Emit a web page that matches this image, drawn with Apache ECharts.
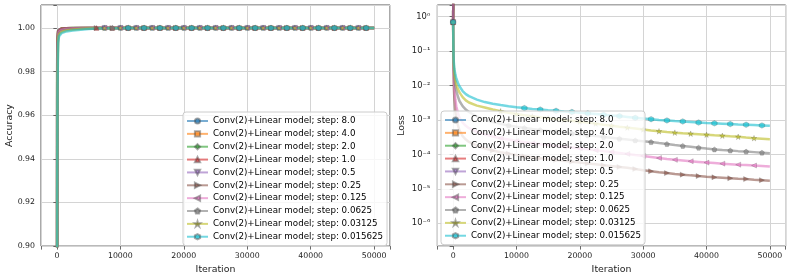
<!DOCTYPE html>
<html><head><meta charset="utf-8">
<script src="https://cdn.jsdelivr.net/npm/echarts@6/dist/echarts.min.js"></script>
<style>html,body{margin:0;padding:0;background:#fff}#c{width:793px;height:279px}</style>
</head><body><div id="c"></div>
<script>
// ---------------- data ----------------
const ITER = [0,50,100,200,350,500,750,1000,1500,2000,2500,3750,
  5000,6250,7500,8750,10000,11250,12500,13750,15000,16250,
  17500,18750,20000,21250,22500,23750,25000,26250,27500,28750,
  30000,31250,32500,33750,35000,36250,37500,38750,40000,41250,
  42500,43750,45000,46250,47500,48750,50000];

const STEPS = ['8.0','4.0','2.0','1.0','0.5','0.25','0.125','0.0625','0.03125','0.015625'];

const ACC_8 = [0.50,0.985,0.996,0.9990,0.9995,0.9997,0.9998,0.9999,0.9999,1,1,1,
  1,1,1,1,1,1,1,1,1,1, 1,1,1,1,1,1,1,1,1,1, 1,1,1,1,1,1,1,1,1,1, 1,1,1,1,1,1,1];
const ACC_4 = [0.50,0.982,0.995,0.9988,0.9994,0.9996,0.9998,0.9998,0.9999,1,1,1,
  1,1,1,1,1,1,1,1,1,1, 1,1,1,1,1,1,1,1,1,1, 1,1,1,1,1,1,1,1,1,1, 1,1,1,1,1,1,1];
const ACC_2 = [0.50,0.978,0.994,0.9986,0.9993,0.9995,0.9997,0.9998,0.9999,0.9999,1,1,
  1,1,1,1,1,1,1,1,1,1, 1,1,1,1,1,1,1,1,1,1, 1,1,1,1,1,1,1,1,1,1, 1,1,1,1,1,1,1];
const ACC_1 = [0.50,0.972,0.993,0.9984,0.9992,0.9994,0.9996,0.9997,0.9998,0.9999,0.9999,1,
  1,1,1,1,1,1,1,1,1,1, 1,1,1,1,1,1,1,1,1,1, 1,1,1,1,1,1,1,1,1,1, 1,1,1,1,1,1,1];
const ACC_05 = [0.50,0.965,0.991,0.9980,0.9990,0.9993,0.9995,0.9996,0.9998,0.9998,0.9999,1,
  1,1,1,1,1,1,1,1,1,1, 1,1,1,1,1,1,1,1,1,1, 1,1,1,1,1,1,1,1,1,1, 1,1,1,1,1,1,1];
const ACC_025 = [0.50,0.958,0.989,0.9976,0.9987,0.9990,0.9993,0.9995,0.9997,0.9998,0.9998,0.9999,
  1,1,1,1,1,1,1,1,1,1, 1,1,1,1,1,1,1,1,1,1, 1,1,1,1,1,1,1,1,1,1, 1,1,1,1,1,1,1];
const ACC_0125 = [0.50,0.950,0.986,0.9970,0.9983,0.9987,0.9990,0.9992,0.9995,0.9996,0.9997,0.9999,
  0.9999,1,1,1,1,1,1,1,1,1, 1,1,1,1,1,1,1,1,1,1, 1,1,1,1,1,1,1,1,1,1, 1,1,1,1,1,1,1];
const ACC_00625 = [0.50,0.940,0.982,0.9962,0.9978,0.9982,0.9986,0.9989,0.9992,0.9994,0.9995,0.9997,
  0.9998,0.9999,1,1,1,1,1,1,1,1, 1,1,1,1,1,1,1,1,1,1, 1,1,1,1,1,1,1,1,1,1, 1,1,1,1,1,1,1];
const ACC_003125 = [0.50,0.930,0.977,0.9950,0.9971,0.9976,0.9981,0.9984,0.9988,0.9990,0.9992,0.9995,
  0.9997,0.9998,0.9999,0.9999,1,1,1,1,1,1, 1,1,1,1,1,1,1,1,1,1, 1,1,1,1,1,1,1,1,1,1, 1,1,1,1,1,1,1];
const ACC_0015625 = [0.50,0.920,0.972,0.9935,0.9962,0.9970,0.9976,0.9980,0.9984,0.9986,0.9988,0.9992,
  0.9995,0.9997,0.9998,0.9999,0.9999,1,1,1,1,1, 1,1,1,1,1,1,1,1,1,1, 1,1,1,1,1,1,1,1,1,1, 1,1,1,1,1,1,1];

// loss: large steps only have the first couple of logged values (then leave the plotted range)
const LOSS_8 = [0.693,12];
const LOSS_4 = [0.693,12];
const LOSS_2 = [0.693,12];
const LOSS_1 = [0.693,12];
const LOSS_05 = [0.693,12];
const LOSS_025 = [0.693,0.0251,0.0100,0.00398,0.00178,0.00112,7.08e-4,5.01e-4,3.39e-4,2.69e-4,2.29e-4,1.78e-4,
  1.48e-4,1.29e-4,1.15e-4,1.05e-4,9.55e-5,8.81e-5,8.22e-5,7.67e-5,7.24e-5,6.84e-5,
  6.46e-5,6.10e-5,5.75e-5,5.43e-5,5.13e-5,4.84e-5,4.57e-5,4.32e-5,4.07e-5,3.76e-5,
  3.47e-5,3.24e-5,3.02e-5,2.85e-5,2.69e-5,2.57e-5,2.45e-5,2.34e-5,2.24e-5,2.16e-5,
  2.09e-5,2.02e-5,1.95e-5,1.91e-5,1.84e-5,1.78e-5,1.72e-5];
const LOSS_0125 = [0.693,0.0398,0.0178,0.00794,0.00398,0.00251,0.00158,0.00117,8.32e-4,6.76e-4,5.75e-4,4.47e-4,
  3.80e-4,3.31e-4,2.95e-4,2.69e-4,2.45e-4,2.26e-4,2.11e-4,1.97e-4,1.86e-4,1.76e-4,
  1.66e-4,1.57e-4,1.48e-4,1.40e-4,1.32e-4,1.24e-4,1.17e-4,1.10e-4,1.03e-4,9.6e-5,
  9.0e-5,8.40e-5,7.80e-5,7.33e-5,6.92e-5,6.61e-5,6.31e-5,6.03e-5,5.75e-5,5.56e-5,
  5.37e-5,5.19e-5,5.01e-5,4.90e-5,4.73e-5,4.57e-5,4.42e-5];
const LOSS_00625 = [0.693,0.063,0.0316,0.0166,0.010,0.00708,0.00479,0.00355,0.00251,0.0020,0.0017,0.00126,
  1.02e-3,8.71e-4,7.76e-4,6.92e-4,6.31e-4,5.82e-4,5.43e-4,5.07e-4,4.79e-4,4.52e-4,
  4.27e-4,4.03e-4,3.80e-4,3.59e-4,3.39e-4,3.20e-4,3.02e-4,2.85e-4,2.69e-4,2.54e-4,
  2.40e-4,2.27e-4,2.12e-4,1.99e-4,1.87e-4,1.76e-4,1.66e-4,1.56e-4,1.47e-4,1.39e-4,
  1.33e-4,1.29e-4,1.24e-4,1.20e-4,1.16e-4,1.12e-4,1.08e-4];
const LOSS_003125 = [0.693,0.075,0.04,0.022,0.0145,0.011,0.008,0.0063,0.0046,0.0037,0.0032,0.0026,
  2.29e-3,2.00e-3,1.78e-3,1.62e-3,1.48e-3,1.36e-3,1.27e-3,1.19e-3,1.12e-3,1.06e-3,
  1.00e-3,9.44e-4,8.91e-4,8.34e-4,7.80e-4,7.29e-4,6.82e-4,6.38e-4,5.97e-4,5.60e-4,
  5.25e-4,4.95e-4,4.68e-4,4.47e-4,4.27e-4,4.12e-4,3.98e-4,3.85e-4,3.72e-4,3.59e-4,
  3.47e-4,3.35e-4,3.24e-4,3.09e-4,2.95e-4,2.85e-4,2.75e-4];
const LOSS_0015625 = [0.693,0.09,0.05,0.03,0.021,0.016,0.012,0.0095,0.0069,0.0056,0.0049,0.0039,
  3.3e-3,2.95e-3,2.7e-3,2.5e-3,2.34e-3,2.21e-3,2.09e-3,2.0e-3,1.91e-3,1.84e-3,
  1.76e-3,1.70e-3,1.62e-3,1.55e-3,1.48e-3,1.41e-3,1.35e-3,1.29e-3,1.22e-3,1.15e-3,
  1.10e-3,1.05e-3,1.0e-3,9.66e-4,9.33e-4,9.02e-4,8.71e-4,8.41e-4,8.13e-4,7.94e-4,
  7.76e-4,7.59e-4,7.41e-4,7.24e-4,7.08e-4,6.92e-4,6.76e-4];

// iteration of first marker after the one at 0 (markers then every MARK_EVERY iterations, before MARK_LAST)
const MARK_FIRST = [7500,11250,11250,6250,7500,6250,7500,8750,7500,11250];
const MARK_EVERY = 2500;
const MARK_LAST = 49000;

const X_TICKS = [0,10000,20000,30000,40000,50000];
const ACC_TICKS = [0.90,0.92,0.94,0.96,0.98,1.00];
const LOSS_TICKS = [1e-6,1e-5,1e-4,1e-3,1e-2,1e-1,1];

const ACC = [ACC_8,ACC_4,ACC_2,ACC_1,ACC_05,ACC_025,ACC_0125,ACC_00625,ACC_003125,ACC_0015625];
const LOSS = [LOSS_8,LOSS_4,LOSS_2,LOSS_1,LOSS_05,LOSS_025,LOSS_0125,LOSS_00625,LOSS_003125,LOSS_0015625];

// ---------------- style ----------------
const COLORS = ['#1f77b4','#ff7f0e','#2ca02c','#d62728','#9467bd','#8c564b','#e377c2','#7f7f7f','#bcbd22','#17becf'];
const SYMBOLS = ['circle','rect','diamond','triangle',
  'path://M0,0 L10,0 L5,8.66 Z',
  'path://M0,0 L8.66,5 L0,10 Z',
  'path://M8.66,0 L0,5 L8.66,10 Z',
  'path://M50,0 L97.6,34.5 L79.4,90.5 L20.6,90.5 L2.4,34.5 Z',
  'path://M50,0 L61.2,34.5 L97.6,34.5 L68.2,55.9 L79.4,90.5 L50,69.1 L20.6,90.5 L31.8,55.9 L2.4,34.5 L38.8,34.5 Z',
  'path://M50,0 L93.3,25 L93.3,75 L50,100 L6.7,75 L6.7,25 Z'];
const SYM_SIZE = [5, 4.5, 5, 5, 5, 5, 5, 5, 5.5, 5.5];
const FONT = 'DejaVu Sans';
const NAMES = STEPS.map(s => 'Conv(2)+Linear model; step: ' + s);

function mkSeries(vals, k, gi) {
  const first = MARK_FIRST[k];
  const data = vals.map((v, i) => {
    const x = ITER[i];
    const mark = x === 0 || (x >= first && x <= MARK_LAST && (x - first) % MARK_EVERY === 0);
    return mark ? { value: [x, v] } : { value: [x, v], symbol: 'none' };
  });
  return {
    type: 'line', name: NAMES[k], xAxisIndex: gi, yAxisIndex: gi, data,
    symbol: SYMBOLS[k], symbolSize: SYM_SIZE[k], showSymbol: true, showAllSymbol: true, clip: true,
    lineStyle: { color: COLORS[k], width: 2.5, opacity: 0.6 },
    itemStyle: { color: COLORS[k], opacity: 0.65, borderColor: 'rgba(70,70,70,0.7)', borderWidth: 0.5 },
    emphasis: { disabled: true }, animation: false, silent: true
  };
}

const SUP = {'-':'\u207B','0':'\u2070','1':'\u00B9','2':'\u00B2','3':'\u00B3','4':'\u2074','5':'\u2075','6':'\u2076','7':'\u2077','8':'\u2078','9':'\u2079'};
function near(list, v, tol) { return list.some(t => Math.abs(t - v) <= tol); }

const axisLabelBase = { fontFamily: FONT, fontSize: 7.8, color: '#222' };
function tickCfg(list, rel) {
  return { show: true, length: 3.5, lineStyle: { color: '#444', width: 0.8 },
    interval: (i, v) => near(list, +v, rel ? Math.abs(+v) * 1e-6 : 1e-6) };
}
const splitBase = { show: true, lineStyle: { color: '#d4d4d4', width: 1 } };
const nameStyle = { fontFamily: FONT, fontSize: 9.4, color: '#222' };

function mkX(gi) {
  return {
    gridIndex: gi, type: 'value', min: -2500, max: 52500, splitNumber: 5,
    axisLine: { show: false }, axisTick: tickCfg(X_TICKS, false), splitLine: splitBase,
    axisLabel: Object.assign({ margin: 6, formatter: v => near(X_TICKS, v, 1e-6) ? String(Math.round(v)) : '' }, axisLabelBase),
    name: 'Iteration', nameLocation: 'middle', nameGap: 16, nameTextStyle: nameStyle
  };
}

const legendBase = {
  orient: 'vertical', itemWidth: 21, itemHeight: 6.5, itemGap: 2.86, padding: [4, 4, 4, 3],
  backgroundColor: 'rgba(255,255,255,0.8)', borderColor: '#cccccc', borderWidth: 1, borderRadius: 3,
  textStyle: { fontFamily: FONT, fontSize: 8.7, color: '#000', lineHeight: 10 },
  selectedMode: false, data: NAMES, z: 20
};

const option = {
  animation: false,
  backgroundColor: '#fff',
  grid: [
    { left: 41, top: 5, width: 349, height: 242, show: true, borderColor: '#555', borderWidth: 1, backgroundColor: 'transparent' },
    { left: 437.3, top: 5, width: 348.4, height: 242, show: true, borderColor: '#555', borderWidth: 1, backgroundColor: 'transparent' }
  ],
  xAxis: [mkX(0), mkX(1)],
  yAxis: [
    {
      gridIndex: 0, type: 'value', min: 0.9, max: 1.0105, interval: 0.02,
      axisLine: { show: false }, axisTick: tickCfg(ACC_TICKS, false), splitLine: splitBase,
      axisLabel: Object.assign({ margin: 6, formatter: v => near(ACC_TICKS, v, 1e-6) ? v.toFixed(2) : '' }, axisLabelBase),
      name: 'Accuracy', nameLocation: 'middle', nameGap: 26, nameTextStyle: nameStyle
    },
    {
      gridIndex: 1, type: 'log', logBase: 10, min: 2.16e-7, max: 2.18,
      axisLine: { show: false }, axisTick: tickCfg(LOSS_TICKS, true), splitLine: splitBase,
      axisLabel: Object.assign({}, axisLabelBase, { margin: 7, fontSize: 8.4, formatter: v => {
        if (!near(LOSS_TICKS, v, v * 1e-6)) return '';
        const e = String(Math.round(Math.log10(v)));
        return '10' + e.split('').map(c => SUP[c]).join('');
      } }),
      name: 'Loss', nameLocation: 'middle', nameGap: 31, nameTextStyle: nameStyle
    }
  ],
  legend: [
    Object.assign({ left: 183, top: 112 }, legendBase),
    Object.assign({ left: 441, top: 111 }, legendBase)
  ],
  series: [
    ...ACC.map((v, k) => mkSeries(v, k, 0)),
    ...LOSS.map((v, k) => mkSeries(v, k, 1))
  ]
};

const chart = echarts.init(document.getElementById('c'), null, { renderer: 'canvas' });
chart.setOption(option);
</script>
</body></html>
